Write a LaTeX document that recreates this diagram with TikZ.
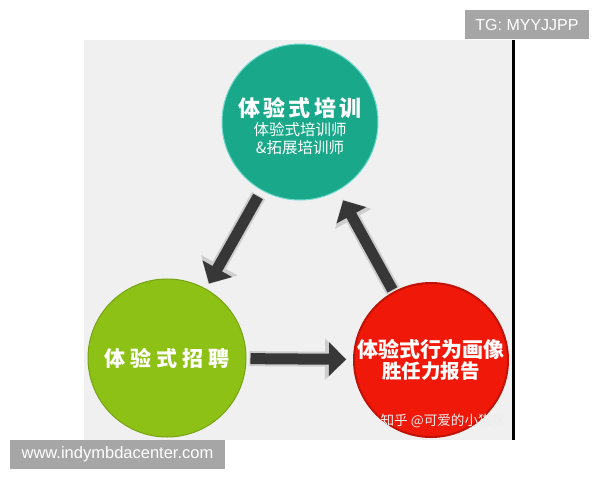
\documentclass[tikz,border=0pt]{standalone}
\usepackage{fontspec}
\setmainfont{Liberation Sans}
\newfontfamily\cjk{Noto Sans CJK SC}
\newfontfamily\cjkwide[LetterSpace=15]{Noto Sans CJK SC}
\newfontfamily\cjkwider[LetterSpace=24]{Noto Sans CJK SC}
\usetikzlibrary{arrows.meta}

\definecolor{panelgrey}{RGB}{240,240,240}
\definecolor{boxgrey}{RGB}{166,166,166}
\definecolor{trainteal}{RGB}{26,168,138}
\definecolor{recruitgreen}{RGB}{141,193,22}
\definecolor{reportred}{RGB}{240,24,8}
\definecolor{arrowdark}{RGB}{55,55,55}
\definecolor{arrowedge}{RGB}{205,205,205}

\begin{document}
\begin{tikzpicture}[x=1pt, y=-1pt,
  bubble/.style={circle, inner sep=0pt, minimum size=156pt, align=center, text=white},
  arrowhalo/.style={draw=arrowedge, line width=15pt, -{Triangle[width=40pt,length=22pt]}},
  arrowbody/.style={draw=arrowdark, line width=11pt, -{Triangle[width=33pt,length=17pt]}},
  tagbox/.style={fill=boxgrey, text=white, inner sep=0pt, minimum height=29pt}]
\useasboundingbox (0,0) rectangle (600,480);
\fill[white] (0,0) rectangle (600,480);
\fill[panelgrey] (84,40) rectangle (512,440);
\fill[black] (512,40) rectangle (515,440);

\node[bubble, fill=trainteal, draw=trainteal!70!cyan!60!white, line width=1pt] (training) at (300,122)
  {\rule{0pt}{27pt}\cjkwide\bfseries\fontsize{22}{18}\selectfont 体验式培训\\[3pt]
   \cjk\fontsize{15.5}{18}\selectfont 体验式培训师\\[3pt]
   \cjk\fontsize{15.5}{18}\selectfont \&拓展培训师};
\node[bubble, fill=recruitgreen, draw=recruitgreen!85!black, line width=1pt, minimum size=158pt] (recruit) at (167,358)
  {\cjkwider\bfseries\fontsize{21}{24}\selectfont 体验式招聘};
\node[bubble, fill=reportred, draw=reportred!80!black, line width=2pt, minimum size=154pt] (portrait) at (431,360)
  {\cjk\bfseries\fontsize{21}{20}\selectfont 体验式行为画像\\[1pt]
   \cjk\bfseries\fontsize{19.5}{20}\selectfont 胜任力报告};
\node[text=white!85!gray, font=\cjk\fontsize{13.6}{15}\selectfont] (mark) at (443,421) {知乎 @可爱的小猫咪};

\draw[arrowhalo, shorten <=6pt, shorten >=5pt] (training) -- (recruit);
\draw[arrowbody, shorten <=7pt, shorten >=6pt] (training) -- (recruit);
\draw[arrowhalo, shorten <=3pt, shorten >=6pt] (recruit) -- (portrait);
\draw[arrowbody, shorten <=4pt, shorten >=7pt] (recruit) -- (portrait);
\draw[arrowhalo, shorten <=1pt, shorten >=10pt] (portrait) -- (training);
\draw[arrowbody, shorten <=2pt, shorten >=11pt] (portrait) -- (training);

\node[tagbox, minimum width=124pt, font=\fontsize{16}{18}\selectfont] (tg) at (527,24.5) {TG: MYYJJPP};
\node[tagbox, minimum width=215pt, font=\fontsize{16.5}{18}\selectfont] (site) at (117.5,454.5) {www.indymbdacenter.com};
\end{tikzpicture}
\end{document}
